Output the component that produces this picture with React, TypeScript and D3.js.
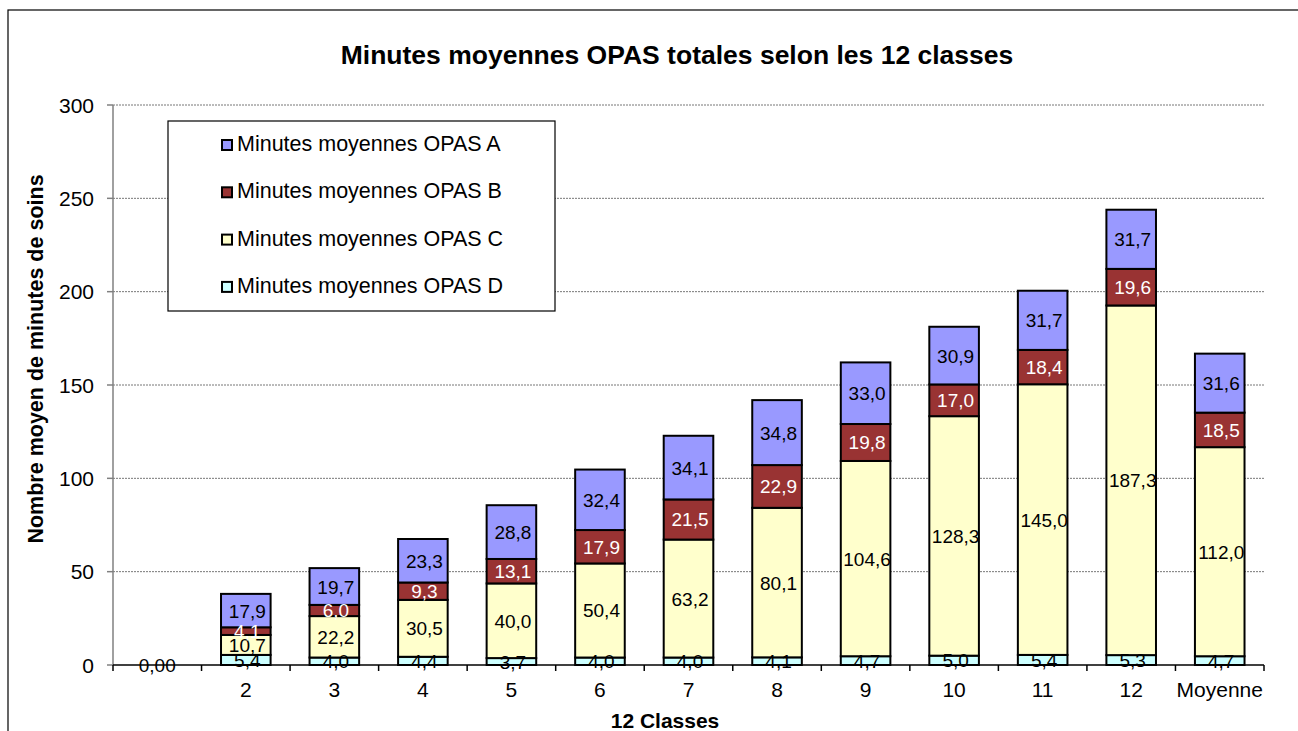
import React from 'react';
import * as d3 from 'd3';

const classes = ['', '2', '3', '4', '5', '6', '7', '8', '9', '10', '11', '12', 'Moyenne'];
const opasD = [0, 5.4, 4.0, 4.4, 3.7, 4.0, 4.0, 4.1, 4.7, 5.0, 5.4, 5.3, 4.7];
const opasC = [0, 10.7, 22.2, 30.5, 40.0, 50.4, 63.2, 80.1, 104.6, 128.3, 145.0, 187.3, 112.0];
const opasB = [0, 4.1, 6.0, 9.3, 13.1, 17.9, 21.5, 22.9, 19.8, 17.0, 18.4, 19.6, 18.5];
const opasA = [0, 17.9, 19.7, 23.3, 28.8, 32.4, 34.1, 34.8, 33.0, 30.9, 31.7, 31.7, 31.6];
const yTicks = [0, 50, 100, 150, 200, 250, 300];

const seriesNames = ['Minutes moyennes OPAS D', 'Minutes moyennes OPAS C', 'Minutes moyennes OPAS B', 'Minutes moyennes OPAS A'];
const seriesColors = ['#CCFFFF', '#FFFFCC', '#993333', '#9999FF'];
const labelColors = ['#000', '#000', '#fff', '#000'];

const font = 'Liberation Sans, Arial, sans-serif';
const fmt = (v: number) => v.toFixed(1).replace('.', ',');

export default function App() {
  const left = 113, right = 1264, top = 105, bottom = 665;
  const x = d3.scaleBand().domain(classes.map((_, i) => String(i))).range([left, right]).paddingInner(0.44).paddingOuter(0.22);
  const xb = d3.scaleBand().domain(classes.map((_, i) => String(i))).range([left, right]);
  const y = d3.scaleLinear().domain([0, 300]).range([bottom, top]);

  const rows = classes.map((c, i) => ({ key: String(i), D: opasD[i], C: opasC[i], B: opasB[i], A: opasA[i] }));
  const stack = d3.stack<any>().keys(['D', 'C', 'B', 'A'])(rows);

  return (
    <svg width={1298} height={731} style={{ position: 'absolute', left: 0, top: 0, background: '#fff' }} fontFamily={font}>
      <rect x={8} y={10} width={1300} height={730} fill="#fff" stroke="#000" strokeWidth={1.2} />
      <text x={677} y={64} textAnchor="middle" fontSize={26.5} fontWeight="bold">Minutes moyennes OPAS totales selon les 12 classes</text>

      {yTicks.filter(t => t > 0).map(t => (
        <line key={t} x1={left} x2={right} y1={y(t)} y2={y(t)} stroke="#777" strokeWidth={1} strokeDasharray="2,1" />
      ))}
      {yTicks.map(t => (
        <g key={'yt' + t}>
          <line x1={left - 6} x2={left} y1={y(t)} y2={y(t)} stroke="#808080" strokeWidth={1.5} />
          <text x={94} y={y(t) + 7.5} textAnchor="end" fontSize={21}>{t}</text>
        </g>
      ))}
      <line x1={left} x2={left} y1={top} y2={bottom} stroke="#808080" strokeWidth={1.5} />

      {stack.map((s, si) => s.map((d, i) => {
        const v = d[1] - d[0];
        if (v <= 0) return null;
        return (
          <rect key={si + '-' + i} x={x(String(i))!} y={y(d[1])} width={x.bandwidth()} height={y(d[0]) - y(d[1])}
            fill={seriesColors[si]} stroke="#000" strokeWidth={2} />
        );
      }))}

      <line x1={left} x2={right} y1={bottom} y2={bottom} stroke="#000" strokeWidth={1.5} />
      {classes.map((c, i) => (
        <line key={'xt' + i} x1={xb(String(i))!} x2={xb(String(i))!} y1={bottom} y2={bottom + 6} stroke="#000" strokeWidth={1.5} />
      ))}
      <line x1={right} x2={right} y1={bottom} y2={bottom + 6} stroke="#000" strokeWidth={1.5} />

      {stack.map((s, si) => s.map((d, i) => {
        const v = d[1] - d[0];
        const cx = x(String(i))! + x.bandwidth() / 2;
        if (v <= 0) {
          if (si !== 0) return null;
          return <text key={'l' + si + i} x={cx} y={y(0) + 7} textAnchor="middle" fontSize={19}>0,00</text>;
        }
        const cy = (y(d[0]) + y(d[1])) / 2;
        return (
          <text key={'l' + si + '-' + i} x={cx + 1.5} y={cy + 7} textAnchor="middle" fontSize={19} fill={labelColors[si]}>{fmt(v)}</text>
        );
      }))}

      {classes.map((c, i) => (
        <text key={'xl' + i} x={xb(String(i))! + xb.bandwidth() / 2} y={697} textAnchor="middle" fontSize={21}>{c}</text>
      ))}

      <text x={665} y={728} textAnchor="middle" fontSize={21} fontWeight="bold">12 Classes</text>
      <text transform="translate(43,359) rotate(-90)" textAnchor="middle" fontSize={21.5} fontWeight="bold">Nombre moyen de minutes de soins</text>

      <rect x={168} y={121} width={387} height={190} fill="#fff" stroke="#000" strokeWidth={1.2} />
      {[3, 2, 1, 0].map((si, k) => (
        <g key={'lg' + si} transform={`translate(221, ${151 + k * 47.3})`}>
          <rect x={1} y={-11} width={10} height={10} fill={seriesColors[si]} stroke="#000" strokeWidth={2} />
          <text x={16} y={0} fontSize={21.5}>{seriesNames[si]}</text>
        </g>
      ))}
    </svg>
  );
}
